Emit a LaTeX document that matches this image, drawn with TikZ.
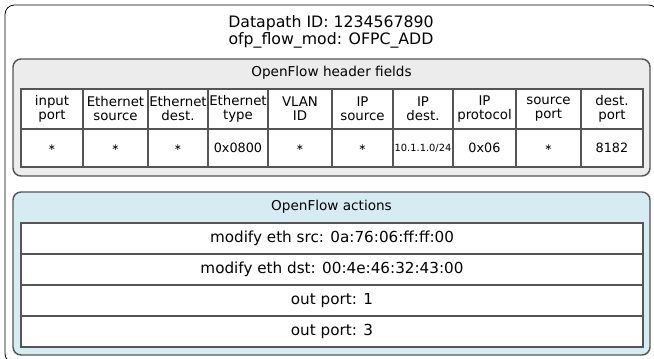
\documentclass[tikz,border=0pt]{standalone}
\usepackage{fontspec}
\setmainfont{DejaVu Sans}
\definecolor{hdrfill}{RGB}{236,236,236}
\definecolor{actfill}{RGB}{214,236,243}
\definecolor{rulegray}{RGB}{85,85,85}
\newcommand{\anyval}{{\fontsize{6.8}{8}\selectfont ∗}}
\begin{document}
\begin{tikzpicture}[x=0.75pt, y=-0.75pt,
    box/.style={draw=rulegray, line width=1.1pt, rounded corners=6pt, inner sep=0pt},
    hcell/.style={draw=rulegray, line width=0.8pt, fill=white, inner sep=0pt, align=center,
        minimum height=30pt, font=\fontsize{10}{10.5}\selectfont},
    vcell/.style={draw=rulegray, line width=0.8pt, fill=white, inner sep=0pt,
        minimum height=28.5pt, font=\fontsize{9.6}{11}\selectfont},
    acell/.style={draw=rulegray, line width=0.8pt, fill=white, inner sep=0pt,
        minimum width=466.5pt, minimum height=23.25pt, font=\fontsize{11.4}{13}\selectfont},
    boxtitle/.style={anchor=base, font=\fontsize{10.2}{12}\selectfont}]
    \useasboundingbox (0,0) rectangle (654,359);

    % === outer frame (runs past the right and bottom edge) ===
    \node[draw=black, line width=0.6pt, rounded corners=7pt, inner sep=0pt,
        minimum width=489.75pt, minimum height=268.5pt] (frame) at (331.5,184) {};
    \node[anchor=base, font=\fontsize{11.8}{14}\selectfont] (dpid) at (331,27.5) {Datapath ID: 1234567890};
    \node[anchor=base, font=\fontsize{11.8}{14}\selectfont] (flowmod) at (331,45) {ofp\_flow\_mod: OFPC\_ADD};

    % === BOX 1: header fields ===
    \node[box, fill=hdrfill, minimum width=477.75pt, minimum height=87.75pt] (hdrbox) at (331.5,117.5) {};
    \node[boxtitle] (hdrtitle) at (331.5,77) {OpenFlow header fields};
    \foreach \xa/\xb/\hd/\vl [count=\i] in {
        21/83/{input\\port}/\anyval,
        83/148/{Ethernet\\source}/\anyval,
        148/208/{Ethernet\\dest.}/\anyval,
        208/268/{Ethernet\\type}/0x0800,
        268/332/{VLAN\\ID}/\anyval,
        332/393/{IP\\source}/\anyval,
        393/453/{IP\\dest.}/{\fontsize{7.4}{9}\selectfont 10.1.1.0/24},
        453/516/{IP\\protocol}/0x06,
        516/581/{source\\port}/\anyval,
        581/643/{dest.\\port}/8182}{
        \node[hcell, minimum width={(\xb-\xa)*0.75pt}] (hd\i) at ({(\xa+\xb)/2},109) {\hd};
        \node[vcell, minimum width={(\xb-\xa)*0.75pt}] (vl\i) at ({(\xa+\xb)/2},148) {\vl};
    }

    % === BOX 2: actions ===
    \node[box, fill=actfill, minimum width=477.75pt, minimum height=122.25pt] (actbox) at (331.5,273.5) {};
    \node[boxtitle] (acttitle) at (331.5,211) {OpenFlow actions};
    \node[acell] (act1) at (332,238.5) {modify eth src: 0a:76:06:ff:ff:00};
    \node[acell] (act2) at (332,269.5) {modify eth dst: 00:4e:46:32:43:00};
    \node[acell] (act3) at (332,300.5) {out port: 1};
    \node[acell] (act4) at (332,331.5) {out port: 3};
\end{tikzpicture}
\end{document}
